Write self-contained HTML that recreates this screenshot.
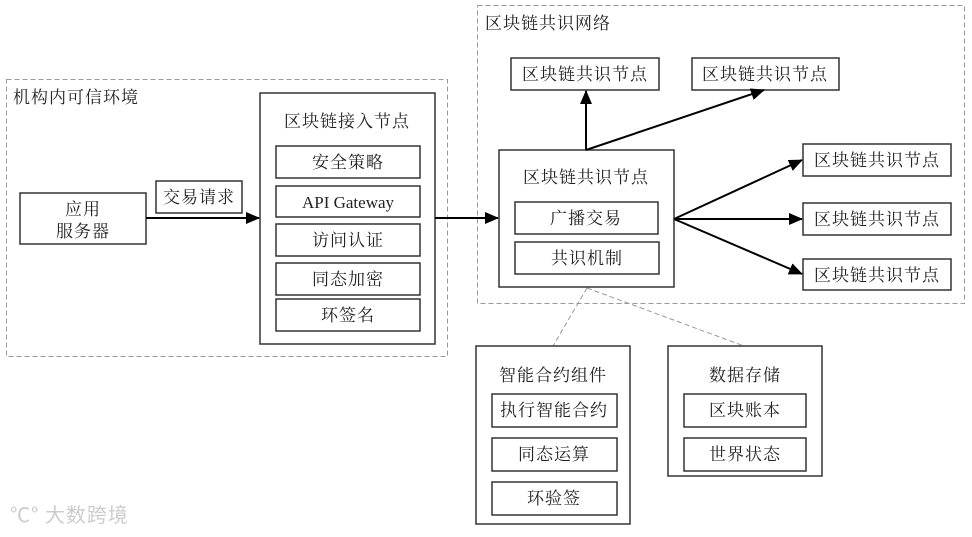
<!DOCTYPE html>
<html><head><meta charset="utf-8"><style>
html,body{margin:0;padding:0;background:#fff}
text{font-family:"Liberation Serif","Noto Serif CJK SC",serif;font-size:17px;fill:#222;letter-spacing:1px}
</style></head><body>
<svg width="972" height="532" viewBox="0 0 972 532" xmlns="http://www.w3.org/2000/svg">
<defs><marker id="a" markerWidth="14" markerHeight="12" refX="13" refY="6" orient="auto" markerUnits="userSpaceOnUse"><path d="M0,0 L14,6 L0,12 z" fill="#000"/></marker></defs>
<g fill="none" stroke="#999" stroke-dasharray="5,3" stroke-width="1">
<rect x="6.5" y="79.5" width="441" height="277"/>
<rect x="477.5" y="5.5" width="487" height="298"/>
<line x1="587" y1="288" x2="553" y2="346"/>
<line x1="587" y1="288" x2="744" y2="346"/>
</g>
<g fill="#fff" stroke="#333" stroke-width="1.5">
<rect x="20" y="193" width="126" height="51"/>
<rect x="156" y="181" width="86" height="32"/>
<rect x="260" y="93" width="175" height="251"/>
<rect x="276" y="146" width="144" height="32"/>
<rect x="276" y="186" width="144" height="31"/>
<rect x="276" y="224" width="144" height="32"/>
<rect x="276" y="263" width="144" height="32"/>
<rect x="276" y="299" width="144" height="32"/>
<rect x="511" y="58" width="148" height="32"/>
<rect x="692" y="58" width="147" height="32"/>
<rect x="499" y="150" width="175" height="137"/>
<rect x="515" y="202" width="143" height="32"/>
<rect x="515" y="242" width="144" height="32"/>
<rect x="803" y="144" width="148" height="32"/>
<rect x="803" y="203" width="148" height="32"/>
<rect x="803" y="259" width="148" height="31"/>
<rect x="476" y="346" width="154" height="178"/>
<rect x="492" y="394" width="125" height="33"/>
<rect x="492" y="438" width="125" height="33"/>
<rect x="492" y="482" width="125" height="33"/>
<rect x="668" y="346" width="154" height="130"/>
<rect x="684" y="394" width="122" height="33"/>
<rect x="684" y="438" width="122" height="33"/>
</g>
<g stroke="#000" stroke-width="2" marker-end="url(#a)">
<line x1="146" y1="218" x2="259" y2="218"/>
<line x1="435" y1="218" x2="498" y2="218"/>
<line x1="586" y1="150" x2="586" y2="91"/>
<line x1="586" y1="150" x2="764" y2="90"/>
<line x1="674" y1="219" x2="802" y2="160"/>
<line x1="674" y1="219" x2="802" y2="219"/>
<line x1="674" y1="219" x2="802" y2="274"/>
</g>
<text x="13" y="103">机构内可信环境</text>
<text x="485" y="29">区块链共识网络</text>
<g text-anchor="middle">
<text x="83" y="215">应用</text>
<text x="83" y="237">服务器</text>
<text x="199" y="203">交易请求</text>
<text x="347" y="127">区块链接入节点</text>
<text x="348" y="168">安全策略</text>
<text x="348" y="208" style="letter-spacing:0">API Gateway</text>
<text x="348" y="246">访问认证</text>
<text x="348" y="285">同态加密</text>
<text x="348" y="321">环签名</text>
<text x="585" y="80">区块链共识节点</text>
<text x="765" y="80">区块链共识节点</text>
<text x="586" y="183">区块链共识节点</text>
<text x="586" y="224">广播交易</text>
<text x="587" y="264">共识机制</text>
<text x="877" y="166">区块链共识节点</text>
<text x="877" y="225">区块链共识节点</text>
<text x="877" y="281">区块链共识节点</text>
<text x="553" y="381">智能合约组件</text>
<text x="554" y="416">执行智能合约</text>
<text x="554" y="460">同态运算</text>
<text x="554" y="504">环验签</text>
<text x="745" y="381">数据存储</text>
<text x="745" y="416">区块账本</text>
<text x="745" y="460">世界状态</text>
</g>
<text x="10" y="522" style="fill:#ccc;font-size:20px;font-family:'Noto Sans CJK SC',sans-serif">℃° 大数跨境</text>
</svg>
</body></html>
